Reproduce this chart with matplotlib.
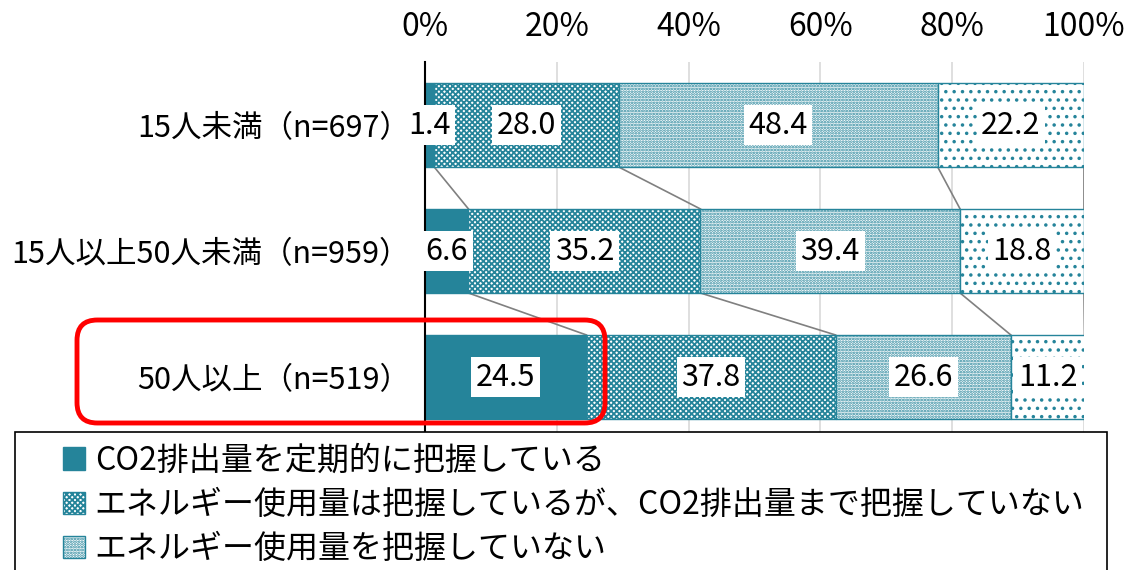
import matplotlib.pyplot as plt
import matplotlib.patches as mpatches
import numpy as np

plt.rcParams['font.family'] = ['Noto Sans CJK JP', 'DejaVu Sans']
plt.rcParams['hatch.linewidth'] = 1.3

# Data
categories = ['15人未満（n=697）', '15人以上50人未満（n=959）', '50人以上（n=519）']
series_names = [
    'CO2排出量を定期的に把握している',
    'エネルギー使用量は把握しているが、CO2排出量まで把握していない',
    'エネルギー使用量を把握していない',
    '',
]
values = np.array([
    [1.4, 28.0, 48.4, 22.2],
    [6.6, 35.2, 39.4, 18.8],
    [24.5, 37.8, 26.6, 11.2],
])
tick_labels = ['0%', '20%', '40%', '60%', '80%', '100%']

teal = '#25849A'
hatches = [None, 'xxxxxx', '......', '..']
faces = [teal, 'white', 'white', 'white']

fig = plt.figure(figsize=(11.29, 5.70), dpi=100)
ax = fig.add_axes([425 / 1129, 1 - 440 / 570, 659 / 1129, 378 / 570])

bar_h = 0.667
y = np.arange(len(categories))
left = np.zeros(len(categories))
for j in range(values.shape[1]):
    ax.barh(
        y, values[:, j], left=left, height=bar_h,
        color=faces[j], edgecolor=teal, hatch=hatches[j],
        linewidth=1, zorder=2,
    )
    for i in range(len(categories)):
        ax.text(
            left[i] + values[i, j] / 2, y[i], f'{values[i, j]:.1f}',
            ha='center', va='center', fontsize=22, zorder=4,
            bbox=dict(boxstyle='square,pad=0.15', facecolor='white', edgecolor='none'),
        )
    left = left + values[:, j]

# Connector lines between bars
cum = np.cumsum(values, axis=1)
for i in range(len(categories) - 1):
    for j in range(values.shape[1]):
        ax.plot(
            [cum[i, j], cum[i + 1, j]],
            [y[i] + bar_h / 2, y[i + 1] - bar_h / 2],
            color='#808080', linewidth=1.2, zorder=1,
        )

ax.set_xlim(0, 100)
ax.set_ylim(2.5, -0.5)
ax.set_xticks(np.linspace(0, 100, 6))
ax.set_xticklabels(tick_labels, fontsize=23)
ax.xaxis.tick_top()
ax.tick_params(axis='x', length=0, pad=14)
ax.set_yticks(y)
ax.set_yticklabels(categories, fontsize=22)
ax.tick_params(axis='y', length=0, pad=11)
ax.grid(axis='x', color='#d9d9d9', linewidth=1.2, zorder=0)
ax.set_axisbelow(True)
for s in ['top', 'right', 'bottom']:
    ax.spines[s].set_visible(False)
ax.spines['left'].set_color('black')
ax.spines['left'].set_linewidth(1.5)
ax.spines['left'].set_zorder(3)

# Red highlight box around the last category
fig.patches.append(mpatches.FancyBboxPatch(
    (77 / 1129, 1 - 423 / 570), 528 / 1129, 103 / 570,
    boxstyle='round,pad=0,rounding_size=0.018',
    transform=fig.transFigure, facecolor='none',
    edgecolor='#ff0000', linewidth=3.5, zorder=5,
    mutation_aspect=1129 / 570,
))

# Legend frame
fig.patches.append(mpatches.Rectangle(
    (15 / 1129, -0.01), 1092 / 1129, 1 - 432 / 570 + 0.01,
    transform=fig.transFigure, facecolor='white',
    edgecolor='black', linewidth=1.2, zorder=3,
))
handles = [
    mpatches.Patch(facecolor=faces[j], edgecolor=teal, hatch=hatches[j], linewidth=1)
    for j in range(3)
]
leg = fig.legend(
    handles, series_names[:3], loc='upper left',
    bbox_to_anchor=(50 / 1129, 1 - 432 / 570),
    frameon=False, fontsize=23, handlelength=0.7, handleheight=0.7,
    handletextpad=0.3, labelspacing=0.38, borderaxespad=0,
)
leg.set_zorder(6)

fig.savefig('out.png', dpi=100)
